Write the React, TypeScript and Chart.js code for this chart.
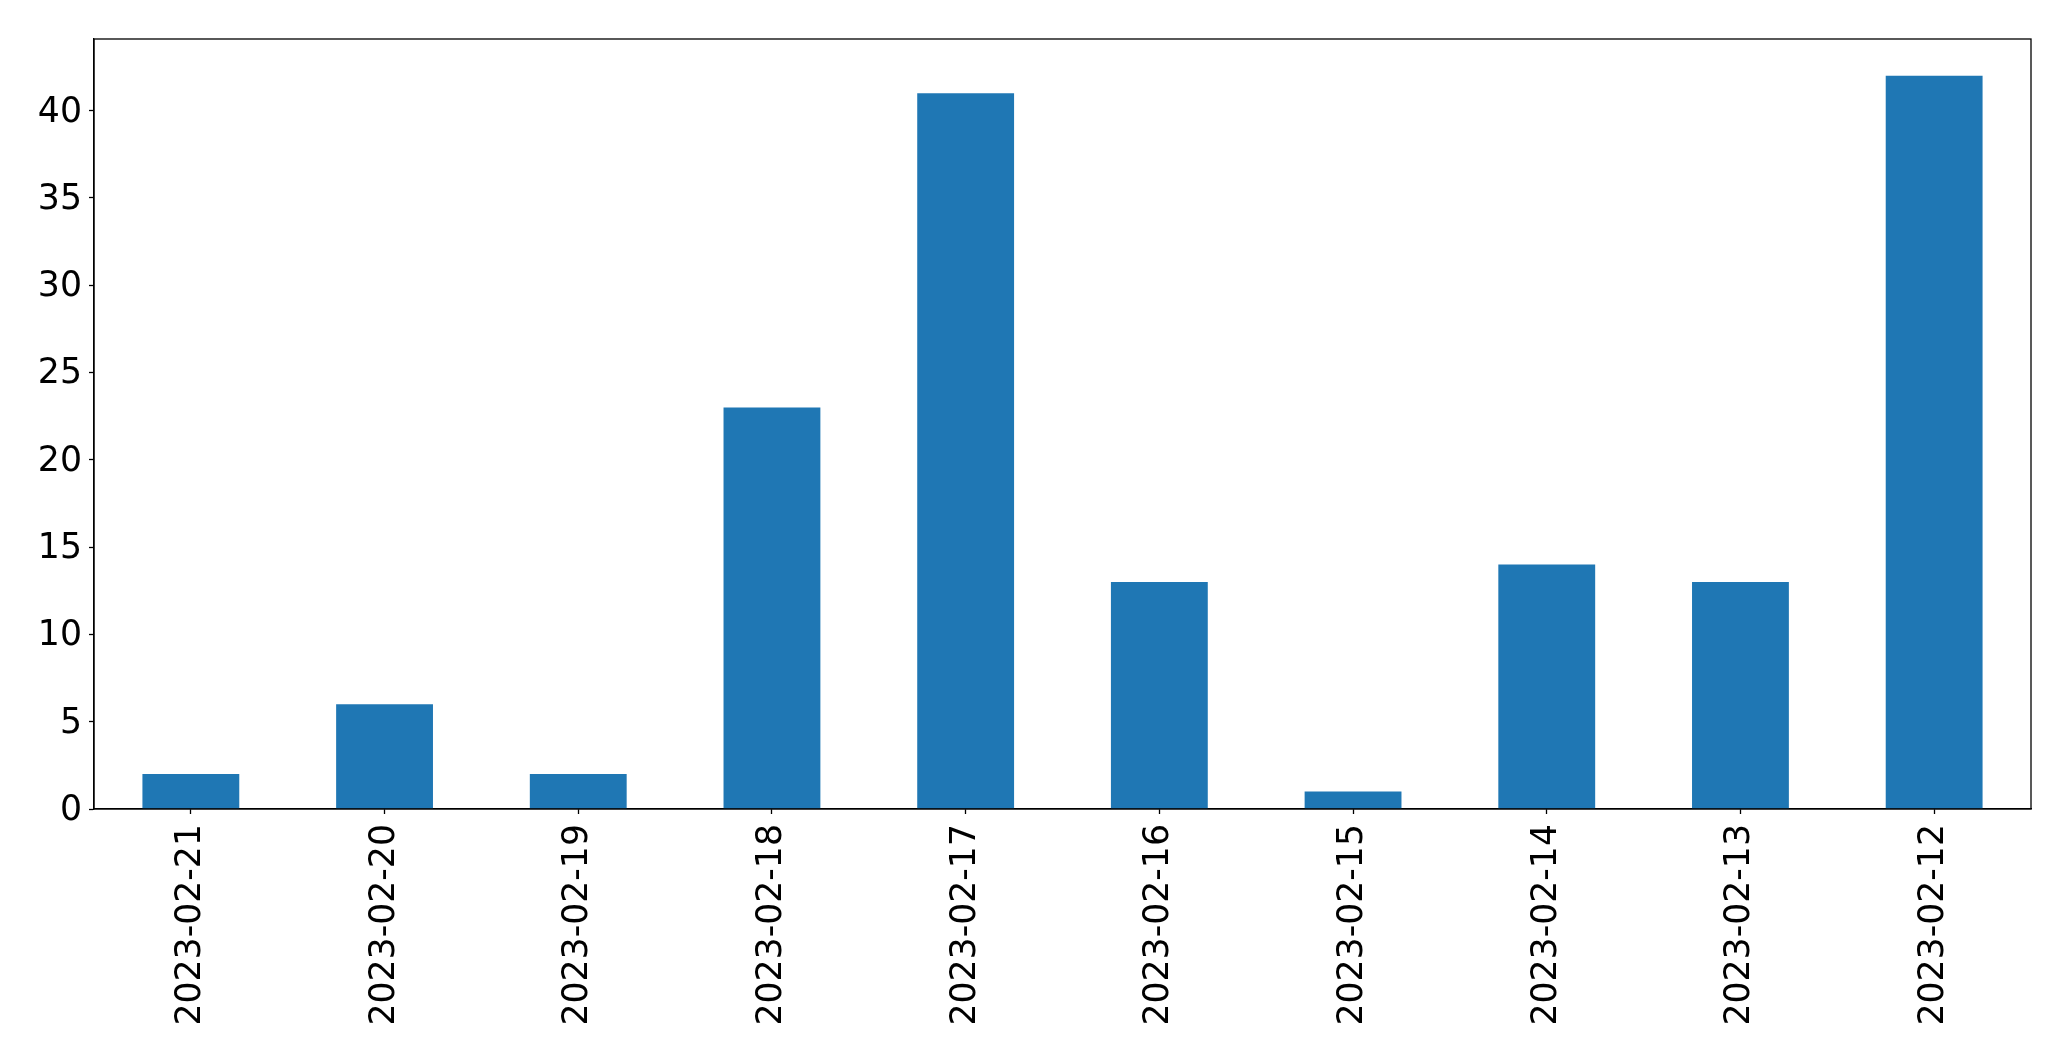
import React, { useEffect, useRef } from "react";
import { Chart, registerables } from "chart.js";

Chart.register(...registerables);

const categories = [
  "2023-02-21", "2023-02-20", "2023-02-19", "2023-02-18", "2023-02-17",
  "2023-02-16", "2023-02-15", "2023-02-14", "2023-02-13", "2023-02-12",
];
const counts = [2, 6, 2, 23, 41, 13, 1, 14, 13, 42];
const yMax = 44.1;
const yStep = 5;
const yTickMax = 40;

const W = 2071;
const H = 1061;
const FONT = { family: "'DejaVu Sans', sans-serif", size: 34.7 };

const framePlugin = {
  id: "frame",
  afterDraw(chart: any) {
    const { ctx, chartArea } = chart;
    ctx.save();
    ctx.strokeStyle = "#000";
    ctx.lineWidth = 1.3;
    ctx.strokeRect(chartArea.left, chartArea.top, chartArea.right - chartArea.left, chartArea.bottom - chartArea.top);
    ctx.restore();
  },
};

export default function App() {
  const ref = useRef<HTMLCanvasElement | null>(null);
  useEffect(() => {
    document.body.style.margin = "0";
    const chart = new Chart(ref.current as HTMLCanvasElement, {
      type: "bar",
      data: {
        labels: categories,
        datasets: [
          {
            data: counts,
            backgroundColor: "#1f77b4",
            barPercentage: 0.5,
            categoryPercentage: 1,
          },
        ],
      },
      options: {
        animation: false,
        responsive: false,
        maintainAspectRatio: false,
        devicePixelRatio: 1,
        layout: { padding: { top: 39, right: 40, left: 0, bottom: 0 } },
        plugins: { legend: { display: false }, tooltip: { enabled: false } },
        scales: {
          x: {
            offset: true,
            grid: { display: true, offset: false, drawOnChartArea: false, drawTicks: true, tickLength: 5, tickColor: "#000", tickWidth: 1.3 },
            border: { display: true, color: "#000", width: 1.3 },
            ticks: { color: "#000", font: FONT, minRotation: 90, maxRotation: 90, autoSkip: false, padding: 10 },
            afterFit(scale: any) {
              scale.height = 252;
            },
          },
          y: {
            min: 0,
            max: yMax,
            grid: { display: true, drawOnChartArea: false, drawTicks: true, tickLength: 5, tickColor: "#000", tickWidth: 1.3 },
            border: { display: true, color: "#000", width: 1.3 },
            ticks: { color: "#000", font: FONT, stepSize: yStep, includeBounds: false, padding: 7, labelOffset: 2 },
            afterBuildTicks(scale: any) {
              scale.ticks = scale.ticks.filter((t: any) => t.value <= yTickMax);
            },
            afterFit(scale: any) {
              scale.width = 94;
            },
          },
        },
      },
      plugins: [framePlugin],
    });
    return () => chart.destroy();
  }, []);
  return (
    <div style={{ width: W, height: H, overflow: "hidden", background: "#fff" }}>
      <canvas ref={ref} width={W} height={H} style={{ width: W, height: H, display: "block" }} />
    </div>
  );
}
